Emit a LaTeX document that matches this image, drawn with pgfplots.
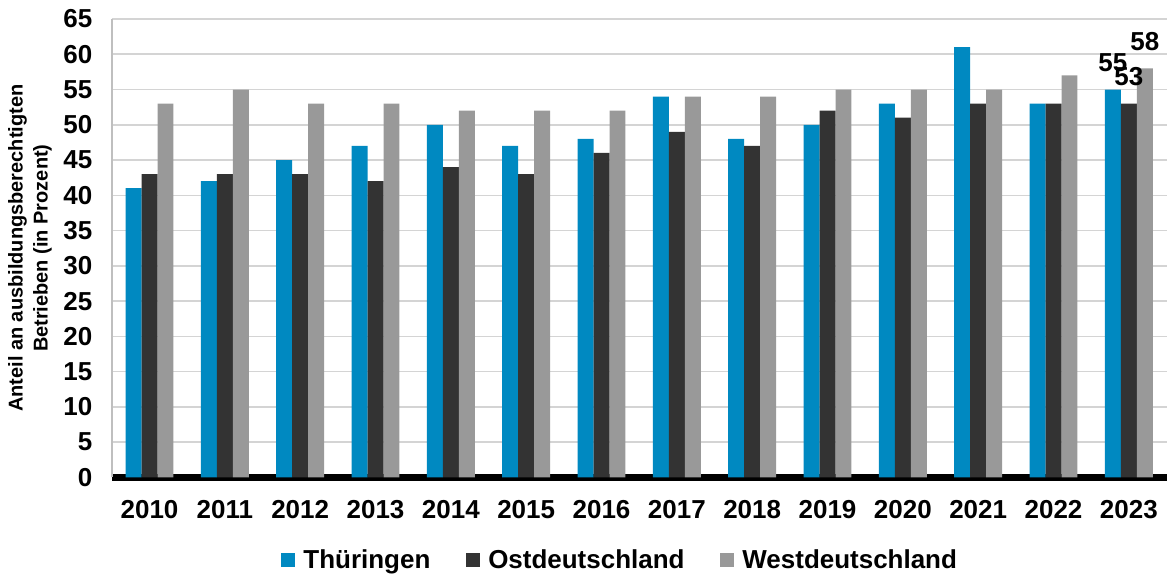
\documentclass[border=0pt]{standalone}
\usepackage{fontspec}
\setmainfont{Liberation Sans}
\usepackage{pgfplots}
\pgfplotsset{compat=1.18}
\usepackage{pgfplotstable}

\definecolor{thblue}{HTML}{0089C1}
\definecolor{ostdark}{HTML}{333333}
\definecolor{westgray}{HTML}{999999}
\definecolor{gridgray}{HTML}{D4D4D4}

% Anteil ausbildungsberechtigter Betriebe, 2010--2023 (x = 0 ... 13)
\pgfplotstableread{
x  th  ost  west
0  41  43   53
1  42  43   55
2  45  43   53
3  47  42   53
4  50  44   52
5  47  43   52
6  48  46   52
7  54  49   54
8  48  47   54
9  50  52   55
10 53  51   55
11 61  53   55
12 53  53   57
13 55  53   58
}\betriebe

\begin{document}
\begin{tikzpicture}
\begin{axis}[
  name=ax,
  scale only axis,
  width=1056pt, height=459pt,
  ybar=0pt, bar width=16pt,
  xmin=-0.5, xmax=13.5,
  ymin=0, ymax=65,
  xtick=data,
  xticklabels={2010,2011,2012,2013,2014,2015,2016,2017,2018,2019,2020,2021,2022,2023},
  ytick={0,5,...,65},
  major tick length=0pt,
  axis x line*=bottom, axis y line*=left,
  x axis line style={black, line width=7pt, -},
  y axis line style={gridgray!90!black, line width=1.5pt, -},
  ymajorgrids,
  major grid style={gridgray, line width=1.5pt},
  /pgf/number format/assume math mode=true,
  ticklabel style={font=\fontsize{26}{30}\selectfont\bfseries},
  xticklabel style={yshift=-19pt},
  yticklabel style={xshift=-16pt},
  ylabel={Anteil an ausbildungsberechtigten\\Betrieben (in Prozent)},
  ylabel style={at={(rel axis cs:0,0.5)}, anchor=center, yshift=82pt,
    align=center, font=\fontsize{20}{25}\selectfont\bfseries},
  legend style={draw=none, fill=none, at={(rel axis cs:0.482,0)}, anchor=center,
    yshift=-83pt, font=\fontsize{26}{30}\selectfont\bfseries,
    legend columns=-1,
    /tikz/every even column/.append style={column sep=34pt}},
  legend image code/.code={\path[#1, draw=none] (0pt,-7pt) rectangle (14pt,7pt);},
  legend cell align=left,
  visualization depends on={value \coordindex \as \idx},
  nodes near coords={\ifnum\idx=13 \pgfmathprintnumber{\pgfplotspointmeta}\fi},
  every node near coord/.append style={font=\fontsize{26}{30}\selectfont\bfseries,
    text=black, yshift=14pt},
]
\addplot[fill=thblue, draw=none] table[x=x, y=th] {\betriebe};
\addplot[fill=ostdark, draw=none] table[x=x, y=ost] {\betriebe};
\addplot[fill=westgray, draw=none] table[x=x, y=west] {\betriebe};
\legend{\hspace{6pt}Thüringen, \hspace{6pt}Ostdeutschland, \hspace{6pt}Westdeutschland}
\end{axis}
\path (ax.south west) ++(-112pt,-97pt) rectangle ++(1170pt,575pt);
\end{tikzpicture}
\end{document}
